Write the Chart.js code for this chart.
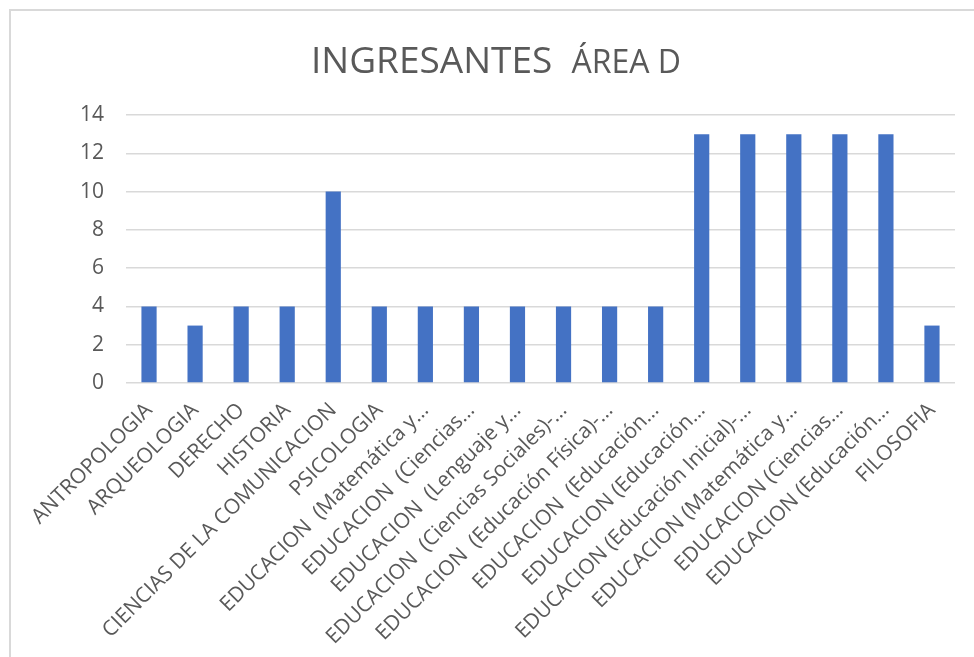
<!DOCTYPE html>
<html>
<head>
<meta charset="utf-8">
<script src="https://cdn.jsdelivr.net/npm/chart.js@4/dist/chart.umd.min.js"></script>
<style>
  html, body { margin: 0; padding: 0; background: #fff; }
  body { width: 974px; height: 657px; position: relative; overflow: hidden; }
  #frame { position: absolute; left: 9px; top: 9px; width: 1200px; height: 1000px;
           border-top: 2px solid #d9d9d9; border-left: 2px solid #d9d9d9; }
  #wrap { position: absolute; left: 0; top: 0; width: 974px; height: 657px; }
</style>
</head>
<body>
<div id="frame"></div>
<div id="wrap"><canvas id="c"></canvas></div>
<script>
const titleMain = "INGRESANTES";
const titleSub = "ÁREA D";

const categories = [
  "ANTROPOLOGIA",
  "ARQUEOLOGIA",
  "DERECHO",
  "HISTORIA",
  "CIENCIAS DE LA COMUNICACION",
  "PSICOLOGIA",
  "EDUCACION  (Matemática y…",
  "EDUCACION  (Ciencias…",
  "EDUCACION  (Lenguaje y…",
  "EDUCACION  (Ciencias Sociales)-…",
  "EDUCACION  (Educación Física)-…",
  "EDUCACION  (Educación…",
  "EDUCACION (Educación…",
  "EDUCACION (Educación Inicial)-…",
  "EDUCACION (Matemática y…",
  "EDUCACION (Ciencias…",
  "EDUCACION (Educación…",
  "FILOSOFIA"
];

const ingresantes = [4, 3, 4, 4, 10, 4, 4, 4, 4, 4, 4, 4, 13, 13, 13, 13, 13, 3];

const yTicks = [0, 2, 4, 6, 8, 10, 12, 14];

const FONT = "'Open Sans', sans-serif";
const TEXT = "#595959";

const splitTitle = {
  id: "splitTitle",
  afterDraw(chart) {
    const ctx = chart.ctx;
    ctx.save();
    ctx.fillStyle = TEXT;
    ctx.textBaseline = "alphabetic";
    ctx.textAlign = "left";
    ctx.font = "37px " + FONT;
    const w1 = ctx.measureText(titleMain + "  ").width;
    ctx.font = "32px " + FONT;
    const w2 = ctx.measureText(titleSub).width;
    const cx = 496;
    let x = cx - (w1 + w2) / 2;
    ctx.font = "37px " + FONT;
    ctx.fillText(titleMain, x, 73);
    ctx.font = "32px " + FONT;
    ctx.fillText(titleSub, x + w1, 73);
    ctx.restore();
  }
};

new Chart(document.getElementById("c"), {
  type: "bar",
  data: {
    labels: categories,
    datasets: [{
      label: "INGRESANTES",
      data: ingresantes,
      backgroundColor: "#4472C4",
      borderWidth: 0,
      categoryPercentage: 1,
      barPercentage: 0.33
    }]
  },
  options: {
    responsive: true,
    maintainAspectRatio: false,
    animation: false,
    layout: { padding: { top: 115, right: 19, left: 0, bottom: 0 } },
    plugins: {
      legend: { display: false },
      title: { display: false },
      tooltip: { enabled: false }
    },
    scales: {
      x: {
        grid: { display: false, drawTicks: false },
        border: { display: false },
        ticks: {
          autoSkip: false,
          maxRotation: 45,
          minRotation: 45,
          padding: 15,
          color: TEXT,
          font: { family: FONT, size: 21 }
        },
        afterFit(s) { s.height = 274; }
      },
      y: {
        min: 0,
        max: 14,
        afterBuildTicks(s) { s.ticks = yTicks.map(v => ({ value: v })); },
        grid: { color: "#d9d9d9", lineWidth: 1.5, drawTicks: false },
        border: { display: false },
        ticks: {
          padding: 22,
          color: TEXT,
          font: { family: FONT, size: 21 }
        },
        afterFit(s) { s.width = 126; }
      }
    }
  },
  plugins: [splitTitle]
});
</script>
</body>
</html>
